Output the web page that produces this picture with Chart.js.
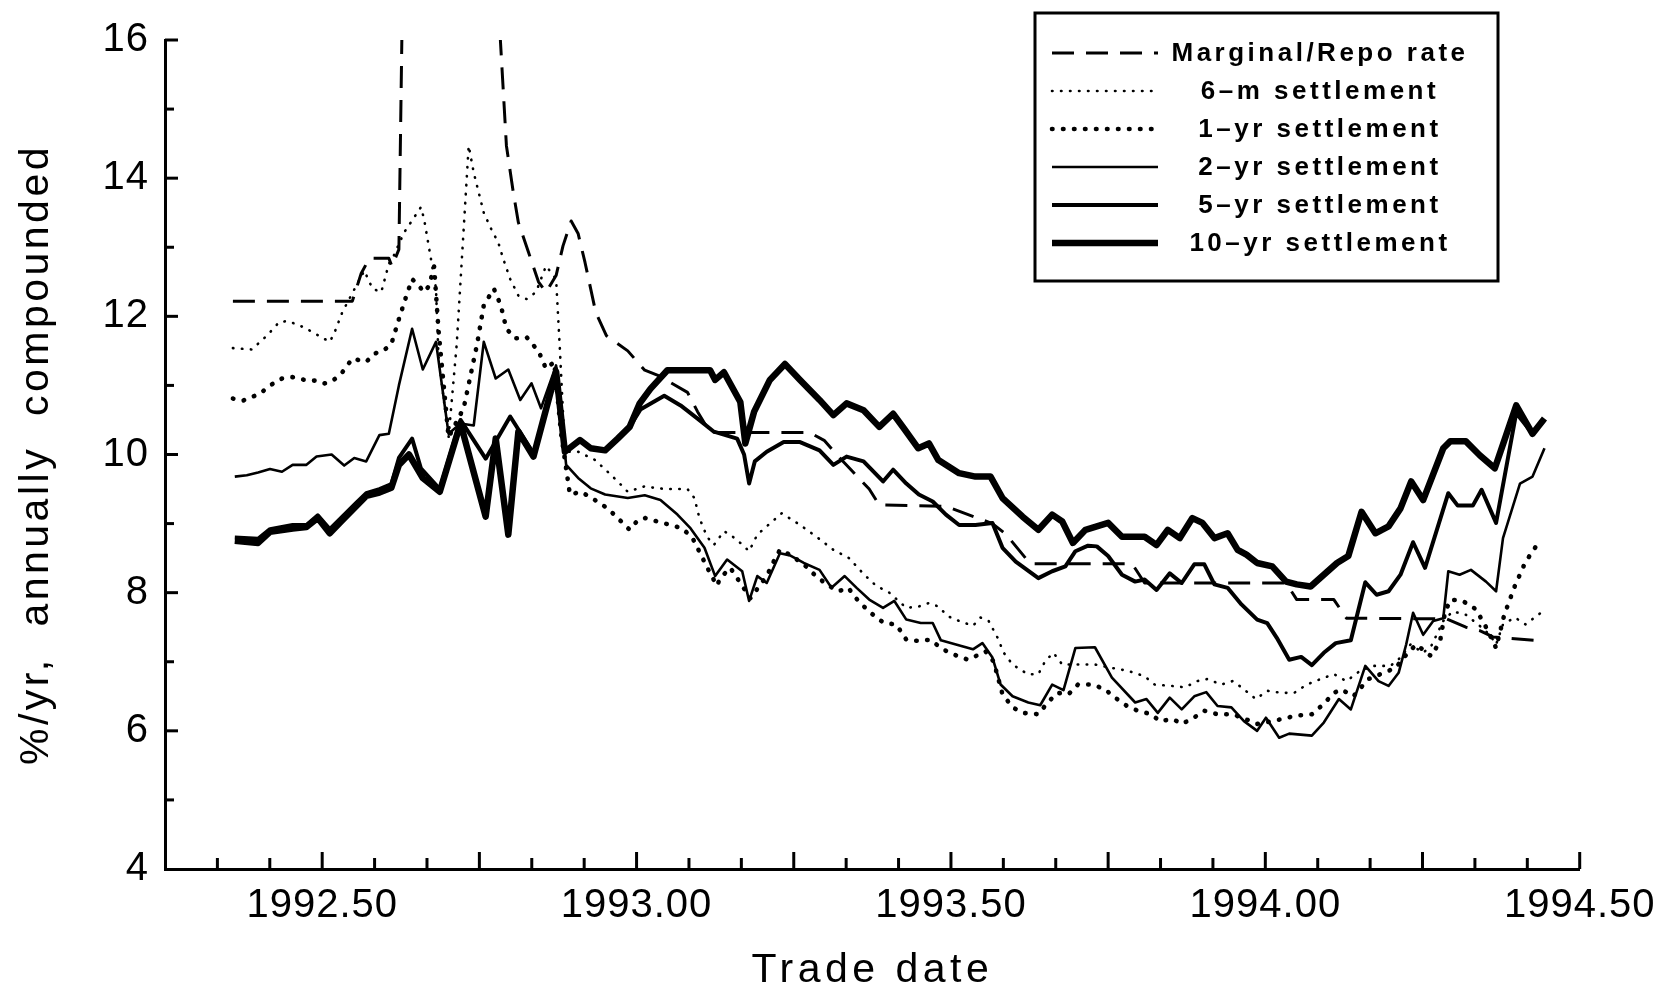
<!DOCTYPE html>
<html>
<head>
<meta charset="utf-8">
<title>Marginal/Repo rate and settlement rates</title>
<script src="https://cdn.jsdelivr.net/npm/chart.js@4.4.0/dist/chart.umd.min.js"></script>
<style>
  html, body { margin: 0; padding: 0; background: #fff; }
  #wrap { width: 1665px; height: 986px; position: relative; }
</style>
</head>
<body>
<div id="wrap"><canvas id="rateChart"></canvas></div>
<script>
// values (trade date in decimal years, rate in %/yr)
const repoDates = [1992.358, 1992.548, 1992.562, 1992.575, 1992.606, 1992.611, 1992.622, 1992.629, 1992.774, 1992.793,
  1992.804, 1992.812, 1992.828, 1992.844, 1992.856, 1992.872, 1992.883, 1992.896, 1992.907, 1992.918,
  1992.935, 1992.952, 1992.986, 1993.013, 1993.033, 1993.081, 1993.097, 1993.117, 1993.275, 1993.299,
  1993.318, 1993.341, 1993.370, 1993.386, 1993.492, 1993.566, 1993.587, 1993.626, 1993.788, 1993.808,
  1994.033, 1994.050, 1994.109, 1994.129, 1994.288, 1994.319, 1994.341, 1994.362, 1994.444];
const repoRates = [12.22, 12.22, 12.62, 12.84, 12.84, 12.72, 12.97, 17.5, 17.5, 14.47,
  13.79, 13.36, 12.93, 12.5, 12.35, 12.59, 13.02, 13.38, 13.2, 12.78,
  12.06, 11.72, 11.5, 11.22, 11.15, 10.9, 10.62, 10.32, 10.32, 10.2,
  10.0, 9.78, 9.5, 9.27, 9.25, 9.0, 8.85, 8.42, 8.42, 8.14,
  8.14, 7.9, 7.9, 7.63, 7.62, 7.5, 7.45, 7.36, 7.3];

const sixMonthDates = [1992.358, 1992.388, 1992.412, 1992.432, 1992.445, 1992.464, 1992.485, 1992.512, 1992.519, 1992.532,
  1992.554, 1992.567, 1992.580, 1992.594, 1992.606, 1992.614, 1992.630, 1992.641, 1992.657, 1992.662,
  1992.673, 1992.681, 1992.685, 1992.701, 1992.714, 1992.733, 1992.741, 1992.749, 1992.757, 1992.769,
  1992.780, 1992.788, 1992.799, 1992.812, 1992.825, 1992.840, 1992.856, 1992.872, 1992.878, 1992.886,
  1992.907, 1992.934, 1992.954, 1992.970, 1992.986, 1993.013, 1993.033, 1993.054, 1993.081, 1993.092,
  1993.100, 1993.112, 1993.123, 1993.139, 1993.149, 1993.165, 1993.179, 1993.192, 1993.212, 1993.231,
  1993.260, 1993.286, 1993.313, 1993.338, 1993.361, 1993.381, 1993.402, 1993.429, 1993.449, 1993.465,
  1993.480, 1993.495, 1993.513, 1993.535, 1993.547, 1993.560, 1993.574, 1993.584, 1993.598, 1993.622,
  1993.639, 1993.650, 1993.663, 1993.677, 1993.702, 1993.729, 1993.756, 1993.781, 1993.808, 1993.824,
  1993.851, 1993.872, 1993.892, 1993.908, 1993.930, 1993.948, 1993.962, 1993.985, 1994.003, 1994.025,
  1994.046, 1994.066, 1994.088, 1994.109, 1994.129, 1994.151, 1994.172, 1994.199, 1994.215, 1994.231,
  1994.251, 1994.264, 1994.283, 1994.298, 1994.319, 1994.341, 1994.357, 1994.367, 1994.378, 1994.397,
  1994.414, 1994.428, 1994.446];
const sixMonthRates = [11.54, 11.52, 11.72, 11.92, 11.93, 11.87, 11.77, 11.63, 11.75, 12.06,
  12.44, 12.66, 12.4, 12.35, 12.76, 12.88, 13.21, 13.36, 13.58, 13.41,
  12.83, 12.4, 11.4, 10.25, 11.6, 14.47, 14.08, 13.79, 13.5, 13.26,
  13.07, 12.83, 12.54, 12.3, 12.25, 12.35, 12.73, 12.54, 11.53, 10.04,
  10.04, 9.92, 9.75, 9.61, 9.46, 9.54, 9.51, 9.5, 9.5, 9.37,
  9.08, 8.81, 8.69, 8.89, 8.84, 8.72, 8.6, 8.84, 9.0, 9.15,
  8.98, 8.81, 8.62, 8.5, 8.27, 8.1, 8.0, 7.78, 7.8, 7.85,
  7.8, 7.66, 7.59, 7.52, 7.64, 7.59, 7.35, 7.13, 6.96, 6.82,
  6.82, 7.01, 7.13, 6.96, 6.96, 6.96, 6.91, 6.87, 6.79, 6.67,
  6.65, 6.63, 6.72, 6.75, 6.67, 6.72, 6.63, 6.46, 6.58, 6.55,
  6.55, 6.67, 6.75, 6.82, 6.72, 6.87, 6.94, 6.94, 7.06, 7.25,
  7.13, 7.23, 7.59, 7.73, 7.68, 7.52, 7.39, 7.25, 7.54, 7.64,
  7.54, 7.64, 7.76];

const oneYearDates = [1992.358, 1992.374, 1992.401, 1992.417, 1992.436, 1992.453, 1992.477, 1992.493, 1992.504, 1992.516,
  1992.532, 1992.548, 1992.570, 1992.583, 1992.597, 1992.610, 1992.622, 1992.634, 1992.643, 1992.654,
  1992.662, 1992.670, 1992.678, 1992.685, 1992.701, 1992.725, 1992.746, 1992.757, 1992.773, 1992.784,
  1992.793, 1992.807, 1992.825, 1992.836, 1992.844, 1992.856, 1992.869, 1992.880, 1992.894, 1992.912,
  1992.934, 1992.954, 1992.970, 1992.989, 1993.002, 1993.014, 1993.033, 1993.054, 1993.073, 1993.089,
  1993.105, 1993.117, 1993.128, 1993.133, 1993.149, 1993.160, 1993.181, 1993.207, 1993.218, 1993.228,
  1993.244, 1993.266, 1993.283, 1993.302, 1993.321, 1993.337, 1993.346, 1993.358, 1993.370, 1993.381,
  1993.394, 1993.413, 1993.429, 1993.449, 1993.467, 1993.487, 1993.511, 1993.527, 1993.539, 1993.555,
  1993.568, 1993.582, 1993.598, 1993.614, 1993.639, 1993.653, 1993.669, 1993.687, 1993.702, 1993.726,
  1993.745, 1993.761, 1993.780, 1993.797, 1993.819, 1993.832, 1993.853, 1993.867, 1993.883, 1993.903,
  1993.924, 1993.948, 1993.966, 1993.987, 1994.011, 1994.050, 1994.074, 1994.093, 1994.109, 1994.121,
  1994.140, 1994.164, 1994.207, 1994.224, 1994.240, 1994.264, 1994.278, 1994.286, 1994.295, 1994.314,
  1994.335, 1994.351, 1994.367, 1994.380, 1994.397, 1994.413, 1994.425, 1994.436];
const oneYearRates = [10.81, 10.78, 10.88, 11.0, 11.1, 11.12, 11.07, 11.07, 11.03, 11.06,
  11.19, 11.39, 11.34, 11.46, 11.5, 11.6, 11.96, 12.3, 12.54, 12.44,
  12.35, 12.44, 12.72, 11.8, 10.25, 10.67, 11.58, 12.16, 12.4, 12.16,
  11.82, 11.68, 11.7, 11.58, 11.5, 11.24, 11.34, 10.3, 9.42, 9.46,
  9.34, 9.22, 9.08, 8.91, 9.05, 9.08, 9.03, 8.98, 8.93, 8.79,
  8.5, 8.28, 8.1, 8.21, 8.36, 8.21, 7.92, 8.24, 8.45, 8.62,
  8.55, 8.41, 8.26, 8.12, 8.02, 8.07, 7.95, 7.83, 7.73, 7.64,
  7.56, 7.54, 7.32, 7.3, 7.32, 7.18, 7.08, 7.03, 7.08, 7.15,
  7.0, 6.53, 6.34, 6.26, 6.24, 6.4, 6.55, 6.53, 6.67, 6.67,
  6.6, 6.48, 6.36, 6.29, 6.24, 6.14, 6.17, 6.1, 6.17, 6.29,
  6.24, 6.24, 6.18, 6.1, 6.14, 6.22, 6.24, 6.39, 6.55, 6.6,
  6.5, 6.75, 6.91, 7.1, 7.25, 7.08, 7.3, 7.73, 7.9, 7.88,
  7.76, 7.5, 7.2, 7.68, 8.1, 8.43, 8.6, 8.74];

const twoYearDates = [1992.361, 1992.380, 1992.398, 1992.417, 1992.436, 1992.453, 1992.475, 1992.491, 1992.515, 1992.535,
  1992.551, 1992.570, 1992.591, 1992.606, 1992.622, 1992.643, 1992.660, 1992.681, 1992.701, 1992.720,
  1992.741, 1992.757, 1992.776, 1992.796, 1992.815, 1992.833, 1992.848, 1992.872, 1992.888, 1992.907,
  1992.927, 1992.950, 1992.986, 1993.013, 1993.038, 1993.065, 1993.086, 1993.108, 1993.125, 1993.144,
  1993.168, 1993.179, 1993.192, 1993.207, 1993.228, 1993.244, 1993.266, 1993.291, 1993.310, 1993.331,
  1993.350, 1993.370, 1993.392, 1993.410, 1993.429, 1993.452, 1993.471, 1993.484, 1993.508, 1993.535,
  1993.550, 1993.566, 1993.579, 1993.598, 1993.623, 1993.642, 1993.661, 1993.679, 1993.698, 1993.729,
  1993.756, 1993.793, 1993.811, 1993.829, 1993.848, 1993.867, 1993.887, 1993.906, 1993.924, 1993.946,
  1993.966, 1993.987, 1994.001, 1994.022, 1994.038, 1994.074, 1994.093, 1994.117, 1994.136, 1994.159,
  1994.180, 1994.196, 1994.212, 1994.224, 1994.235, 1994.251, 1994.267, 1994.283, 1994.291, 1994.309,
  1994.327, 1994.351, 1994.367, 1994.378, 1994.405, 1994.425, 1994.444];
const twoYearRates = [9.68, 9.7, 9.74, 9.79, 9.75, 9.85, 9.85, 9.97, 10.0, 9.84,
  9.95, 9.9, 10.28, 10.3, 11.0, 11.82, 11.23, 11.63, 10.3, 10.45,
  10.42, 11.63, 11.1, 11.23, 10.79, 11.03, 10.67, 11.29, 9.85, 9.66,
  9.51, 9.42, 9.37, 9.41, 9.34, 9.13, 8.93, 8.65, 8.24, 8.48,
  8.31, 7.88, 8.24, 8.14, 8.57, 8.54, 8.43, 8.33, 8.07, 8.24,
  8.07, 7.9, 7.78, 7.88, 7.61, 7.56, 7.56, 7.31, 7.25, 7.18,
  7.27, 7.06, 6.67, 6.5, 6.41, 6.37, 6.67, 6.59, 7.2, 7.21,
  6.77, 6.41, 6.46, 6.26, 6.48, 6.31, 6.5, 6.56, 6.36, 6.34,
  6.14, 6.0, 6.19, 5.9, 5.96, 5.93, 6.12, 6.46, 6.31, 6.94,
  6.72, 6.65, 6.84, 7.25, 7.71, 7.39, 7.59, 7.63, 8.31, 8.26,
  8.33, 8.16, 8.02, 8.79, 9.58, 9.68, 10.09];

const fiveYearDates = [1992.361, 1992.398, 1992.417, 1992.453, 1992.475, 1992.493, 1992.512, 1992.532, 1992.554, 1992.570,
  1992.591, 1992.610, 1992.622, 1992.643, 1992.657, 1992.687, 1992.720, 1992.760, 1992.799, 1992.831,
  1992.837, 1992.872, 1992.886, 1992.910, 1992.927, 1992.950, 1992.970, 1992.989, 1993.006, 1993.044,
  1993.070, 1993.097, 1993.123, 1993.160, 1993.171, 1993.179, 1993.188, 1993.207, 1993.234, 1993.260,
  1993.291, 1993.313, 1993.334, 1993.361, 1993.392, 1993.408, 1993.429, 1993.449, 1993.471, 1993.492,
  1993.513, 1993.539, 1993.566, 1993.582, 1993.603, 1993.639, 1993.661, 1993.682, 1993.698, 1993.718,
  1993.732, 1993.750, 1993.772, 1993.793, 1993.808, 1993.827, 1993.848, 1993.867, 1993.887, 1993.903,
  1993.919, 1993.940, 1993.962, 1993.987, 1994.003, 1994.018, 1994.038, 1994.057, 1994.074, 1994.093,
  1994.112, 1994.136, 1994.159, 1994.177, 1994.196, 1994.215, 1994.235, 1994.254, 1994.291, 1994.306,
  1994.330, 1994.344, 1994.367, 1994.399, 1994.425, 1994.444];
const fiveYearRates = [8.8, 8.78, 8.92, 8.98, 8.98, 9.12, 8.92, 9.1, 9.3, 9.44,
  9.5, 9.57, 9.95, 10.23, 9.8, 9.5, 10.5, 9.94, 10.55, 10.09,
  9.97, 11.24, 10.04, 10.21, 10.09, 10.06, 10.23, 10.4, 10.65, 10.85,
  10.71, 10.52, 10.33, 10.23, 10.0, 9.58, 9.9, 10.04, 10.18, 10.18,
  10.06, 9.85, 9.97, 9.9, 9.61, 9.78, 9.58, 9.42, 9.32, 9.13,
  8.98, 8.98, 9.01, 8.65, 8.45, 8.21, 8.31, 8.38, 8.6, 8.68,
  8.67, 8.53, 8.26, 8.16, 8.19, 8.04, 8.28, 8.14, 8.41, 8.41,
  8.12, 8.07, 7.83, 7.61, 7.56, 7.35, 7.03, 7.07, 6.95, 7.13,
  7.27, 7.31, 8.15, 7.97, 8.02, 8.26, 8.73, 8.36, 9.44, 9.26,
  9.26, 9.49, 9.01, 10.6, 10.3, 10.5];

const tenYearDates = [1992.361, 1992.398, 1992.417, 1992.453, 1992.475, 1992.493, 1992.512, 1992.532, 1992.554, 1992.570,
  1992.591, 1992.610, 1992.622, 1992.638, 1992.660, 1992.687, 1992.720, 1992.760, 1992.776, 1992.796,
  1992.812, 1992.836, 1992.872, 1992.886, 1992.910, 1992.927, 1992.950, 1992.970, 1992.989, 1993.005,
  1993.022, 1993.049, 1993.117, 1993.125, 1993.139, 1993.165, 1993.173, 1993.187, 1993.212, 1993.236,
  1993.260, 1993.291, 1993.313, 1993.334, 1993.361, 1993.386, 1993.408, 1993.425, 1993.448, 1993.465,
  1993.480, 1993.513, 1993.539, 1993.563, 1993.582, 1993.614, 1993.639, 1993.661, 1993.677, 1993.694,
  1993.714, 1993.750, 1993.772, 1993.808, 1993.827, 1993.845, 1993.864, 1993.884, 1993.900, 1993.919,
  1993.940, 1993.956, 1993.970, 1993.987, 1994.011, 1994.033, 1994.050, 1994.072, 1994.093, 1994.114,
  1994.132, 1994.153, 1994.175, 1994.196, 1994.215, 1994.232, 1994.251, 1994.283, 1994.294, 1994.319,
  1994.341, 1994.365, 1994.383, 1994.399, 1994.425, 1994.444];
const tenYearRates = [8.75, 8.72, 8.88, 8.93, 8.95, 9.08, 8.86, 9.05, 9.25, 9.4,
  9.45, 9.52, 9.85, 10.0, 9.66, 9.46, 10.45, 9.1, 10.23, 8.84,
  10.33, 9.97, 11.2, 10.04, 10.21, 10.09, 10.06, 10.23, 10.4, 10.74,
  10.95, 11.22, 11.22, 11.08, 11.19, 10.76, 10.16, 10.62, 11.08, 11.31,
  11.08, 10.79, 10.57, 10.74, 10.64, 10.4, 10.59, 10.38, 10.09, 10.16,
  9.92, 9.73, 9.68, 9.68, 9.37, 9.1, 8.91, 9.13, 9.03, 8.72,
  8.91, 9.01, 8.81, 8.81, 8.69, 8.91, 8.79, 9.08, 9.01, 8.79,
  8.86, 8.62, 8.55, 8.43, 8.38, 8.16, 8.12, 8.09, 8.26, 8.43,
  8.53, 9.17, 8.86, 8.96, 9.22, 9.61, 9.34, 10.09, 10.19, 10.19,
  9.99, 9.8, 10.28, 10.71, 10.3, 10.52];

const seriesNames = ['Marginal/Repo rate', '6\u2013m settlement', '1\u2013yr settlement',
  '2\u2013yr settlement', '5\u2013yr settlement', '10\u2013yr settlement'];
const xTickValues = [1992.5, 1993.0, 1993.5, 1994.0, 1994.5];
const yTickValues = [4, 6, 8, 10, 12, 14, 16];
const xAxisTitle = 'Trade date';
const yAxisTitle = '%/yr,  annually  compounded';

const FONT = '"Liberation Sans", Arial, Helvetica, sans-serif';

function toPoints(dates, rates) {
  return dates.map((d, i) => ({ x: d, y: rates[i] }));
}

// black-and-white line styles, one per series
const lineStyles = [
  { width: 3, dash: [22, 12], cap: 'butt' },
  { width: 2.6, dash: [0.5, 8.5], cap: 'round' },
  { width: 4.6, dash: [0.5, 10.5], cap: 'round' },
  { width: 2.6, dash: [], cap: 'butt' },
  { width: 4, dash: [], cap: 'butt' },
  { width: 6.5, dash: [], cap: 'butt' }
];

const allSeries = [
  toPoints(repoDates, repoRates),
  toPoints(sixMonthDates, sixMonthRates),
  toPoints(oneYearDates, oneYearRates),
  toPoints(twoYearDates, twoYearRates),
  toPoints(fiveYearDates, fiveYearRates),
  toPoints(tenYearDates, tenYearRates)
];

const datasets = allSeries.map((pts, i) => ({
  label: seriesNames[i],
  data: pts,
  borderColor: '#000',
  backgroundColor: '#000',
  borderWidth: lineStyles[i].width,
  borderDash: lineStyles[i].dash,
  borderCapStyle: lineStyles[i].cap,
  borderJoinStyle: 'round',
  pointRadius: 0,
  tension: 0,
  fill: false
}));

// inward tick marks, axis titles and the boxed legend
const decorations = {
  id: 'decorations',
  beforeDraw(chart) {
    chart.ctx.letterSpacing = '1px';
  },
  afterDraw(chart) {
    const { ctx, chartArea, scales } = chart;
    const x = scales.x, y = scales.y;
    ctx.save();
    ctx.strokeStyle = '#000';
    ctx.fillStyle = '#000';
    ctx.lineWidth = 3;
    ctx.lineCap = 'butt';

    // monthly ticks on the date axis, longer every quarter
    for (let k = 1; k <= 27; k++) {
      const px = x.getPixelForValue(1992.25 + k / 12);
      const len = k % 3 === 0 ? 17 : 11;
      ctx.beginPath();
      ctx.moveTo(px, chartArea.bottom);
      ctx.lineTo(px, chartArea.bottom - len);
      ctx.stroke();
    }
    // unit ticks on the rate axis
    for (let v = 5; v <= 16; v++) {
      const py = y.getPixelForValue(v);
      const len = v % 2 === 0 ? 13 : 9;
      ctx.beginPath();
      ctx.moveTo(chartArea.left, py);
      ctx.lineTo(chartArea.left + len, py);
      ctx.stroke();
    }

    // axis titles
    ctx.font = '41px ' + FONT;
    ctx.letterSpacing = '4.5px';
    ctx.textAlign = 'center';
    ctx.textBaseline = 'alphabetic';
    ctx.fillText(xAxisTitle, (chartArea.left + chartArea.right) / 2, 982);

    ctx.save();
    ctx.translate(37, (chartArea.top + chartArea.bottom) / 2);
    ctx.rotate(-Math.PI / 2);
    ctx.font = '41px ' + FONT;
    ctx.letterSpacing = '3.5px';
    ctx.textBaseline = 'middle';
    ctx.fillText(yAxisTitle, 0, 0);
    ctx.restore();

    // legend box
    const box = { left: 1035, top: 13, width: 463, height: 268 };
    ctx.fillStyle = '#fff';
    ctx.fillRect(box.left, box.top, box.width, box.height);
    ctx.strokeRect(box.left, box.top, box.width, box.height);
    ctx.fillStyle = '#000';
    ctx.font = 'bold 26px ' + FONT;
    ctx.letterSpacing = '3.5px';
    ctx.textAlign = 'center';
    ctx.textBaseline = 'middle';
    chart.data.datasets.forEach((ds, i) => {
      const rowY = 53 + 38 * i;
      ctx.save();
      ctx.lineWidth = ds.borderWidth;
      ctx.setLineDash(ds.borderDash);
      ctx.lineCap = ds.borderCapStyle;
      ctx.beginPath();
      ctx.moveTo(1052, rowY);
      ctx.lineTo(1158, rowY);
      ctx.stroke();
      ctx.restore();
      ctx.fillText(ds.label, 1320, rowY + 1);
    });
    ctx.restore();
  }
};

const ctx = document.getElementById('rateChart').getContext('2d');
new Chart(ctx, {
  type: 'line',
  data: { datasets: datasets },
  options: {
    responsive: true,
    maintainAspectRatio: false,
    animation: false,
    events: [],
    layout: { padding: { top: 37, right: 77, bottom: 0, left: 0 } },
    plugins: {
      legend: { display: false },
      tooltip: { enabled: false }
    },
    scales: {
      x: {
        type: 'linear',
        min: 1992.25,
        max: 1994.5,
        afterBuildTicks: s => { s.ticks = xTickValues.map(v => ({ value: v })); },
        afterFit: s => { s.height = 117; },
        grid: { display: false, drawTicks: false },
        border: { display: true, color: '#000', width: 3 },
        ticks: {
          color: '#000',
          font: { family: FONT, size: 40 },
          padding: 13,
          maxRotation: 0,
          autoSkip: false,
          callback: v => Number(v).toFixed(2)
        }
      },
      y: {
        type: 'linear',
        min: 4,
        max: 16,
        afterBuildTicks: s => { s.ticks = yTickValues.map(v => ({ value: v })); },
        afterFit: s => { s.width = 165; },
        grid: { display: false, drawTicks: false },
        border: { display: true, color: '#000', width: 3 },
        ticks: {
          color: '#000',
          font: { family: FONT, size: 40 },
          padding: 16,
          callback: v => String(v)
        }
      }
    }
  },
  plugins: [decorations]
});
</script>
</body>
</html>
